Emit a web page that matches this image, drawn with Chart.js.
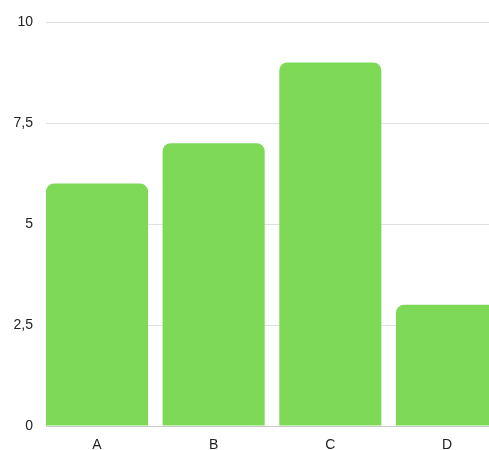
<!DOCTYPE html>
<html>
<head>
<meta charset="utf-8">
<title>Balkendiagramm</title>
<script src="https://cdn.jsdelivr.net/npm/chart.js@4/dist/chart.umd.min.js"></script>
<style>
  html, body { margin: 0; padding: 0; background: #ffffff; overflow: hidden; }
  #wrap { width: 489px; height: 450px; }
</style>
</head>
<body>
<div id="wrap"><canvas id="chart" width="489" height="450"></canvas></div>
<script>
// Categories and their values
const categories = ['A', 'B', 'C', 'D'];
const values = [6, 7, 9, 3];
// Value axis ticks
const yTicks = [0, 2.5, 5, 7.5, 10];

const barColor = '#7ed957';

new Chart(document.getElementById('chart'), {
  type: 'bar',
  data: {
    datasets: [{
      data: values.map((v, i) => ({ x: i, y: v })),
      backgroundColor: barColor,
      borderWidth: 0,
      borderRadius: 8,
      categoryPercentage: 1,
      barPercentage: 0.875
    }]
  },
  options: {
    responsive: false,
    animation: false,
    devicePixelRatio: 1,
    locale: 'de-DE',
    layout: { padding: { top: 22, right: 0, bottom: 0, left: 0 } },
    plugins: {
      legend: { display: false },
      tooltip: { enabled: false }
    },
    scales: {
      x: {
        type: 'linear',
        offset: false,
        bounds: 'data',
        min: -0.437,
        max: 3.36,
        grid: { display: false, drawTicks: false, offset: false },
        border: { display: true, color: '#cccccc', width: 1 },
        afterBuildTicks: (scale) => {
          scale.ticks = categories.map((_, i) => ({ value: i }));
        },
        afterFit: (scale) => { scale.height = 24; },
        ticks: {
          padding: 11,
          maxRotation: 0,
          minRotation: 0,
          includeBounds: false,
          color: '#222222',
          font: { family: 'Liberation Sans, Arial, sans-serif', size: 14 },
          callback: (v) => categories[v]
        }
      },
      y: {
        min: 0,
        max: 10,
        afterBuildTicks: (scale) => {
          scale.ticks = yTicks.map(v => ({ value: v }));
        },
        afterFit: (scale) => { scale.width = 46; },
        grid: { color: '#e0e0e0', drawTicks: false, lineWidth: 1 },
        border: { display: false },
        ticks: {
          padding: 13,
          color: '#222222',
          font: { family: 'Liberation Sans, Arial, sans-serif', size: 14 }
        }
      }
    }
  }
});
</script>
</body>
</html>
